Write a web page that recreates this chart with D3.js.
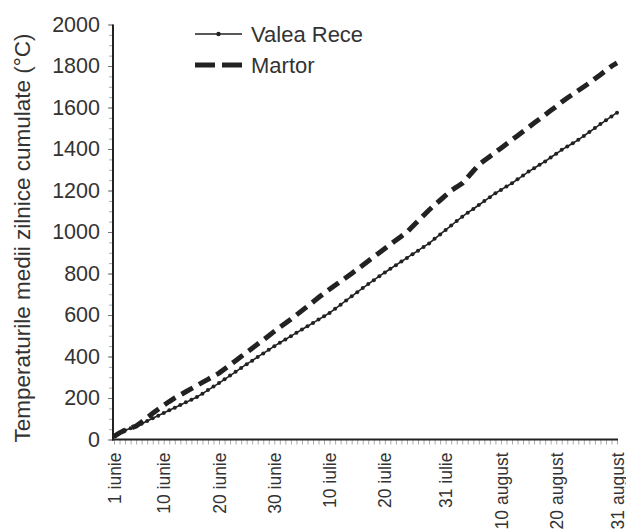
<!DOCTYPE html>
<html>
<head>
<meta charset="utf-8">
<script src="https://cdn.jsdelivr.net/npm/d3@7/dist/d3.min.js"></script>
<style>
	body { margin: 0; background: #fff; }
	svg { display: block; font-family: "Liberation Sans", Arial, sans-serif; }
</style>
</head>
<body>
<svg id="chart" width="626" height="530"></svg>
<script>
	// cumulated daily means, 1 June .. 31 August (92 days)
	const valeaRece = [
		15, 31, 44, 54, 64, 76, 89, 102, 115, 128,
		141, 153, 166, 179, 192, 205, 221, 238, 255, 272,
		290, 308, 326, 345, 363, 380, 398, 415, 432, 450,
		466, 482, 498, 514, 530, 546, 562, 578, 594, 610,
		630, 650, 670, 690, 710, 730, 749, 768, 787, 805,
		823, 840, 858, 875, 893, 910, 928, 945, 967, 988,
		1010, 1031, 1053, 1074, 1093, 1111, 1130, 1149, 1168, 1187,
		1203, 1219, 1235, 1254, 1272, 1291, 1307, 1324, 1340, 1359,
		1377, 1396, 1412, 1428, 1444, 1463, 1482, 1501, 1520, 1538,
		1557, 1575
	];
	const martor = [
		15, 32, 45, 55, 65, 84, 105, 126, 146, 165,
		183, 200, 215, 230, 245, 260, 275, 290, 305, 320,
		340, 360, 380, 400, 420, 440, 460, 480, 500, 521,
		541, 560, 580, 600, 621, 642, 663, 684, 705, 724,
		743, 762, 781, 800, 820, 840, 860, 880, 900, 920,
		940, 960, 980, 1000, 1027, 1053, 1080, 1106, 1130, 1153,
		1177, 1200, 1217, 1235, 1264, 1294, 1324, 1344, 1364, 1384,
		1404, 1424, 1444, 1464, 1484, 1504, 1525, 1545, 1565, 1585,
		1605, 1626, 1646, 1664, 1682, 1700, 1718, 1738, 1758, 1779,
		1799, 1815
	];
	const tickDays = [ 1, 10, 20, 30, 40, 50, 61, 71, 81, 92 ];
	const tickLabels = [ '1 iunie', '10 iunie', '20 iunie', '30 iunie', '10 iulie',
		'20 iulie', '31 iulie', '10 august', '20 august', '31 august' ];
	const seriesNames = [ 'Valea Rece', 'Martor' ];
	const yTitle = 'Temperaturile medii zilnice cumulate (°C)';

	const svg = d3.select( '#chart' ),
		x = d3.scaleLinear().domain( [ 1, 92 ] ).range( [ 114, 617 ] ),
		y = d3.scaleLinear().domain( [ 0, 2000 ] ).range( [ 439.5, 24.5 ] );

	// minor ticks
	svg.append( 'g' )
		.attr( 'transform', 'translate(113,0)' )
		.call( d3.axisLeft( y ).tickValues( d3.range( 0, 2001, 50 ) ).tickSize( 4 ).tickFormat( '' ) )
		.call( g => g.select( '.domain' ).remove() )
		.selectAll( 'line' ).attr( 'stroke', '#aaa' );

	svg.append( 'g' )
		.attr( 'transform', 'translate(0,439.5)' )
		.call( d3.axisBottom( x ).tickValues( d3.range( 1, 93 ) ).tickSize( 5 ).tickFormat( '' ) )
		.call( g => g.select( '.domain' ).remove() )
		.selectAll( 'line' ).attr( 'stroke', '#aaa' );

	// y axis with labels
	let yAxis = svg.append( 'g' )
		.attr( 'transform', 'translate(113,0)' )
		.call( d3.axisLeft( y ).tickValues( d3.range( 0, 2001, 200 ) ).tickSize( 5 ).tickPadding( 8 ).tickFormat( d3.format( 'd' ) ) );
	yAxis.select( '.domain' ).remove();
	yAxis.selectAll( 'line' ).attr( 'stroke', '#777' );
	yAxis.selectAll( 'text' )
		.style( 'font-size', '21.5px' ).attr( 'fill', '#333' );

	// x axis labels
	let xAxis = svg.append( 'g' )
		.attr( 'transform', 'translate(0,439.5)' )
		.call( d3.axisBottom( x ).tickValues( tickDays ).tickSize( 0 ).tickFormat( ( d, i ) => tickLabels[ i ] ) );
	xAxis.select( '.domain' ).remove();
	xAxis.selectAll( 'text' )
		.attr( 'transform', 'rotate(-90)' )
		.attr( 'text-anchor', 'end' )
		.attr( 'x', -13 )
		.attr( 'y', 0 )
		.attr( 'dy', '0.35em' )
		.style( 'font-size', '17.5px' ).attr( 'fill', '#333' );

	// axis lines
	svg.append( 'line' )
		.attr( 'x1', 113 ).attr( 'x2', 113 ).attr( 'y1', y( 2000 ) ).attr( 'y2', y( 0 ) + 1 )
		.attr( 'stroke', '#222' ).attr( 'stroke-width', 2 );
	svg.append( 'line' )
		.attr( 'x1', 112 ).attr( 'x2', 618 ).attr( 'y1', y( 0 ) ).attr( 'y2', y( 0 ) )
		.attr( 'stroke', '#222' ).attr( 'stroke-width', 2 );

	// y title
	svg.append( 'text' )
		.attr( 'transform', 'translate(30,238) rotate(-90)' )
		.attr( 'text-anchor', 'middle' )
		.style( 'font-size', '22.5px' ).attr( 'fill', '#333' )
		.text( yTitle );

	const line = d3.line().x( ( d, i ) => x( i + 1 ) ).y( d => y( d ) );

	svg.append( 'path' )
		.datum( martor )
		.attr( 'd', line )
		.attr( 'fill', 'none' ).attr( 'stroke', '#222' )
		.attr( 'stroke-width', 5 ).attr( 'stroke-dasharray', '13,7' );

	svg.append( 'path' )
		.datum( valeaRece )
		.attr( 'd', line )
		.attr( 'fill', 'none' ).attr( 'stroke', '#222' ).attr( 'stroke-width', 1.6 );

	svg.append( 'g' ).selectAll( 'circle' ).data( valeaRece )
		.enter().append( 'circle' )
		.attr( 'cx', ( d, i ) => x( i + 1 ) )
		.attr( 'cy', d => y( d ) )
		.attr( 'r', 2 )
		.attr( 'fill', '#222' );

	// legend
	let legend = svg.append( 'g' );
	legend.append( 'line' )
		.attr( 'x1', 195 ).attr( 'x2', 242 ).attr( 'y1', 34 ).attr( 'y2', 34 )
		.attr( 'stroke', '#222' ).attr( 'stroke-width', 1.5 );
	legend.append( 'circle' )
		.attr( 'cx', 218.5 ).attr( 'cy', 34 ).attr( 'r', 2.2 ).attr( 'fill', '#222' );
	legend.append( 'line' )
		.attr( 'x1', 195 ).attr( 'x2', 242 ).attr( 'y1', 65 ).attr( 'y2', 65 )
		.attr( 'stroke', '#222' ).attr( 'stroke-width', 5 ).attr( 'stroke-dasharray', '20,7' );
	legend.selectAll( 'text' ).data( seriesNames )
		.enter().append( 'text' )
		.attr( 'x', 251 )
		.attr( 'y', ( d, i ) => 42 + i * 31 )
		.style( 'font-size', '22px' ).attr( 'fill', '#333' )
		.text( d => d );
</script>
</body>
</html>
